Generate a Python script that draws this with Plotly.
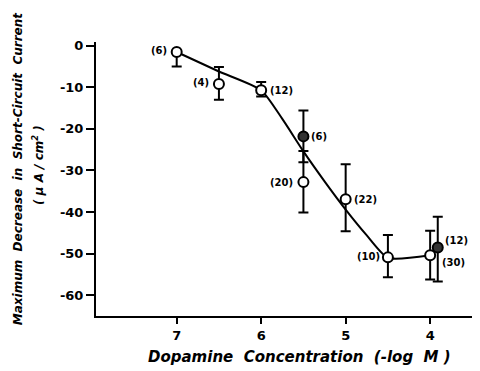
import plotly.graph_objects as go

# Open-circle data points
open_x = [7.0, 6.5, 6.0, 5.5, 5.0, 4.5, 4.0]
open_y = [-1.5, -9.2, -10.7, -32.8, -36.9, -50.9, -50.4]
open_err_up = [0.0, 4.1, 2.0, 7.5, 8.4, 5.4, 5.9]
open_err_down = [3.5, 3.8, 1.5, 7.3, 7.7, 4.8, 5.8]
open_n = ["(6)", "(4)", "(12)", "(20)", "(22)", "(10)", "(30)"]

# Filled-circle data points
filled_x = [5.5, 3.91]
filled_y = [-21.8, -48.5]
filled_err_up = [6.2, 7.4]
filled_err_down = [6.2, 8.2]
filled_n = ["(6)", "(12)"]

# Fitted curve
curve_x = [7.0, 6.5, 6.0, 5.75, 5.5, 5.25, 5.0, 4.75, 4.5, 4.0]
curve_y = [-1.5, -6.2, -10.7, -17.6, -25.4, -32.6, -39.4, -45.6, -51.0, -50.4]

y_ticks = [0, -10, -20, -30, -40, -50, -60]
y_ticklabels = ["0", "-10", "-20", "-30", "-40", "-50", "-60"]
x_ticks = [7, 6, 5, 4]
x_ticklabels = ["7", "6", "5", "4"]

# label placement (pixel shifts relative to point)
open_dx = [-8, -8, 7, -8, 6, -6, 10]
open_dy = [1, 1, 0, 0, 0, 1, -7]
filled_dx = [6, 5]
filled_dy = [0, 7]

fig = go.Figure()
fig.add_trace(go.Scatter(x=curve_x, y=curve_y, mode="lines",
                         line=dict(color="black", width=2, shape="spline", smoothing=0.6),
                         hoverinfo="skip", showlegend=False))
fig.add_trace(go.Scatter(x=open_x, y=open_y, mode="markers",
                         marker=dict(symbol="circle", size=10, color="white",
                                     line=dict(color="black", width=2)),
                         error_y=dict(type="data", symmetric=False, array=open_err_up,
                                      arrayminus=open_err_down, color="black",
                                      thickness=2, width=5),
                         showlegend=False))
fig.add_trace(go.Scatter(x=filled_x, y=filled_y, mode="markers",
                         marker=dict(symbol="circle", size=10, color="#333",
                                     line=dict(color="black", width=2)),
                         error_y=dict(type="data", symmetric=False, array=filled_err_up,
                                      arrayminus=filled_err_down, color="black",
                                      thickness=2, width=5),
                         showlegend=False))

lab_font = dict(family="DejaVu Sans", size=10, color="black", weight="bold")
for x, y, t, dx, dy in zip(open_x, open_y, open_n, open_dx, open_dy):
    fig.add_annotation(x=x, y=y, text=t, showarrow=False, font=lab_font,
                       xanchor="right" if dx < 0 else "left", xshift=dx, yshift=dy)
for x, y, t, dx, dy in zip(filled_x, filled_y, filled_n, filled_dx, filled_dy):
    fig.add_annotation(x=x, y=y, text=t, showarrow=False, font=lab_font,
                       xanchor="left", xshift=dx, yshift=dy)

# Axis titles
fig.add_annotation(xref="paper", yref="paper", x=-0.203, y=0.536,
                   text="<b><i>Maximum  Decrease  in  Short-Circuit  Current</i></b>",
                   textangle=-90, showarrow=False,
                   font=dict(family="DejaVu Sans", size=12, color="black"),
                   xanchor="center", yanchor="middle")
fig.add_annotation(xref="paper", yref="paper", x=-0.151, y=0.551,
                   text="<b><i>( μ A / cm<sup>2</sup> )</i></b>",
                   textangle=-90, showarrow=False,
                   font=dict(family="DejaVu Sans", size=12, color="black"),
                   xanchor="center", yanchor="middle")
fig.add_annotation(xref="paper", yref="paper", x=0.531, y=-0.150,
                   text="<b><i>Dopamine  Concentration  (-log  M )</i></b>",
                   showarrow=False, font=dict(family="DejaVu Sans", size=15, color="black"),
                   xanchor="center", yanchor="middle")

fig.update_xaxes(range=[7.955, 3.41], tickvals=x_ticks, ticktext=x_ticklabels,
                 showline=True, linecolor="black", linewidth=2, showgrid=False,
                 zeroline=False, ticks="outside", ticklen=6, tickwidth=2, tickcolor="black",
                 tickfont=dict(family="DejaVu Sans", size=13, color="black", weight="bold"))
fig.update_yaxes(range=[-65, 0.9], tickvals=y_ticks, ticktext=y_ticklabels,
                 showline=True, linecolor="black", linewidth=2, showgrid=False,
                 zeroline=False, ticks="outside", ticklen=8, tickwidth=2, tickcolor="black",
                 tickfont=dict(family="DejaVu Sans", size=13, color="black", weight="bold"))

fig.update_layout(width=472, height=363, margin=dict(l=88, r=0, t=34, b=55),
                  plot_bgcolor="white", paper_bgcolor="white")
fig.write_html("out.html")
